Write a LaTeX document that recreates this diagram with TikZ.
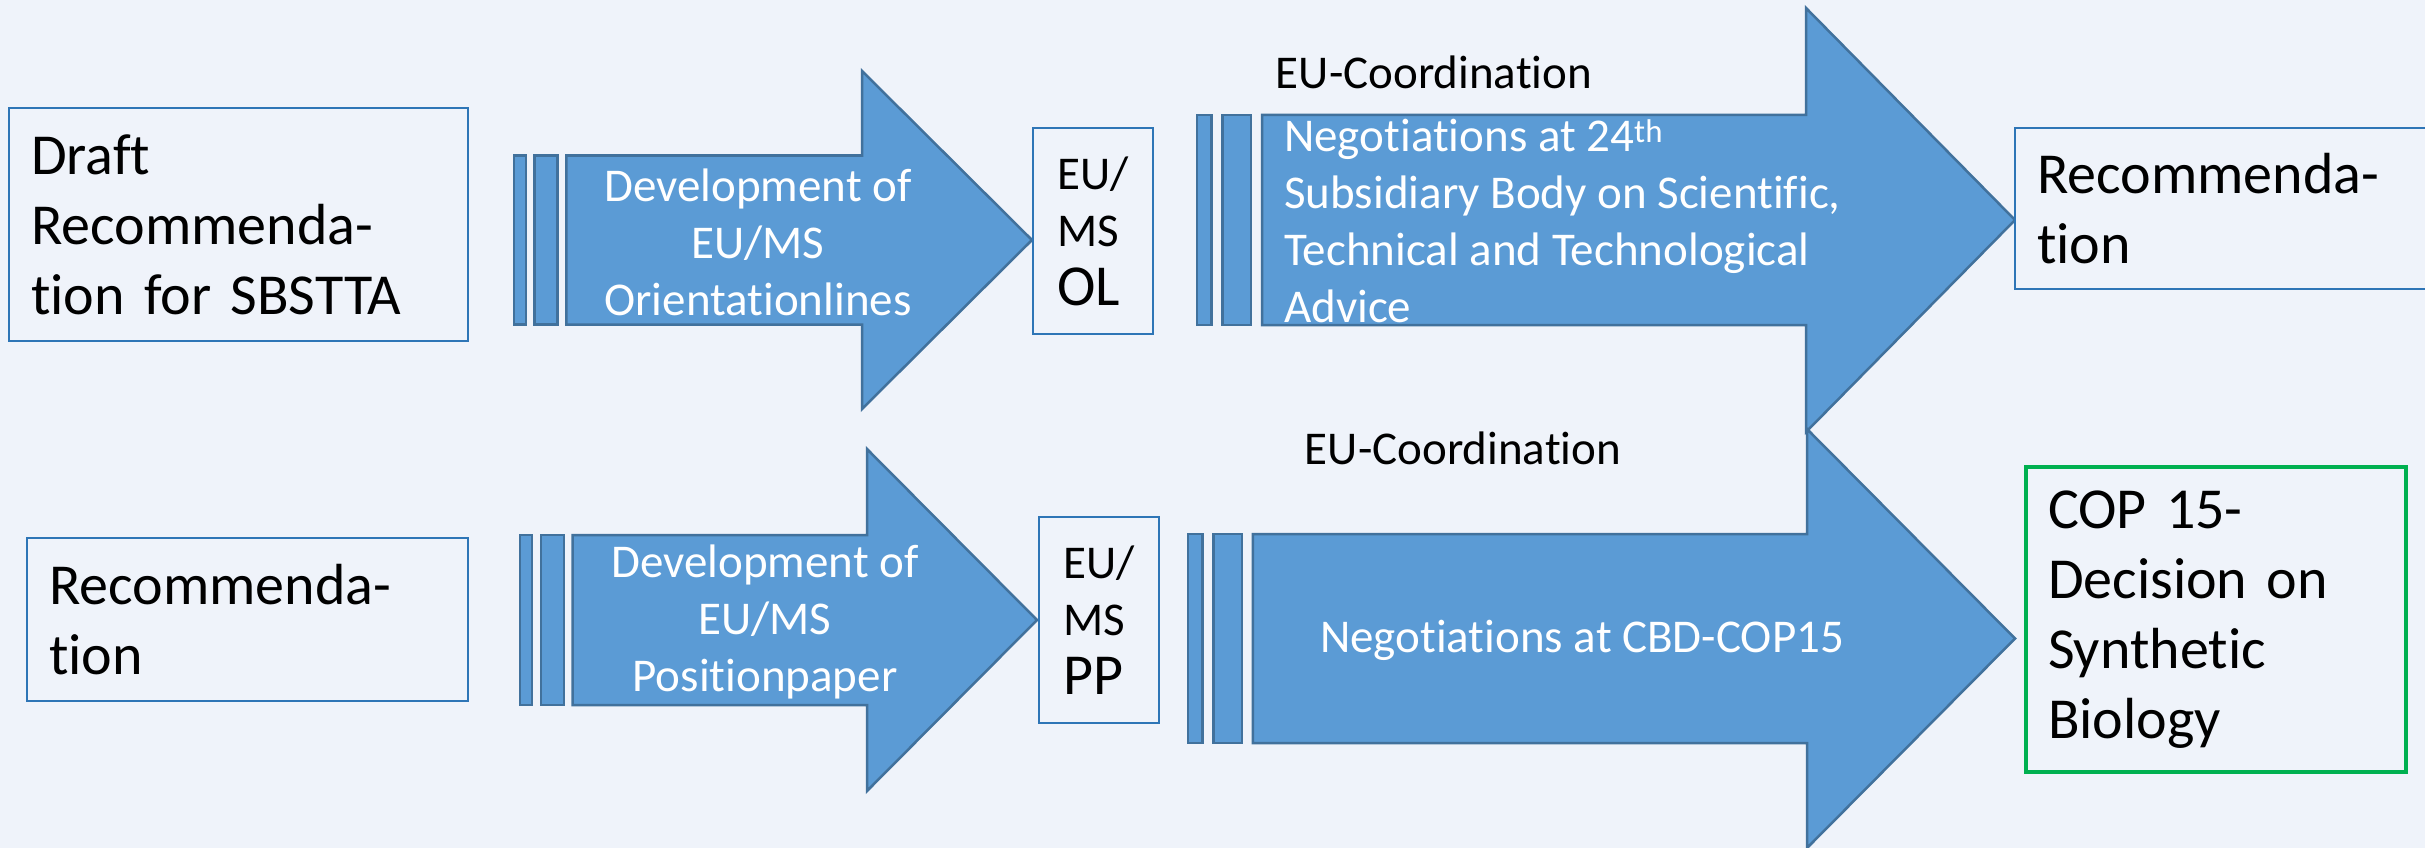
\documentclass[tikz,border=0pt]{standalone}
\usepackage{fontspec}
\setmainfont{Carlito}[Ligatures=NoCommon]
\usepackage{xcolor}
\usepackage{tikz}
\usetikzlibrary{positioning}

\definecolor{bgblue}{RGB}{239,243,250}
\definecolor{arrowblue}{RGB}{91,155,213}
\definecolor{arrowedge}{RGB}{65,113,156}
\definecolor{boxedge}{RGB}{46,117,182}
\definecolor{decisiongreen}{RGB}{0,176,80}

\newcommand{\bigtext}{\fontsize{58}{70}\selectfont}
\newcommand{\smalltext}{\fontsize{47}{57}\selectfont}

% #1 start x, #2 mid y, #3 half shaft, #4 head base x, #5 half head, #6 tip x
\newcommand{\stripedarrow}[6]{%
  \draw[arrowshape] (#1,#2-#3) rectangle (#1+0.14*#3,#2+#3);
  \draw[arrowshape] (#1+0.245*#3,#2-#3) rectangle (#1+0.515*#3,#2+#3);
  \draw[arrowshape] (#1+0.62*#3,#2-#3) -- (#4,#2-#3) -- (#4,#2-#5) -- (#6,#2)
    -- (#4,#2+#5) -- (#4,#2+#3) -- (#1+0.62*#3,#2+#3) -- cycle;
}

\begin{document}
\begin{tikzpicture}[x=1pt,y=-1pt,
    stepbox/.style={draw=boxedge,line width=2pt,fill=bgblue,align=left,inner xsep=22pt,inner ysep=0pt,font=\bigtext},
    msbox/.style={stepbox,minimum width=120pt,minimum height=206pt,font=\smalltext},
    arrowshape/.style={draw=arrowedge,line width=2.5pt,fill=arrowblue,line join=miter},
    arrowlabel/.style={text=white,align=center,inner sep=0pt,font=\smalltext},
    coordlabel/.style={inner sep=0pt,font=\smalltext}]
  \useasboundingbox (0,0) rectangle (2425,848);
  \fill[bgblue] (0,0) rectangle (2425,848);
  \clip (0,0) rectangle (2425,848);

  % upper row
  \node[stepbox,minimum width=459pt,minimum height=233pt,text width=415pt] (draft) at (238.5,224.5)
    {Draft\\Recommenda-\\tion for SBSTTA};
  \stripedarrow{514}{240}{84.5}{862}{169}{1032}
  \node[arrowlabel] (devol) at (758,242) {Development of\\EU/MS\\Orientationlines};
  \node[msbox] (ol) at (1093,231) {EU/\\MS\\[2pt]{\bigtext OL}};
  \stripedarrow{1197}{220}{105}{1806}{212}{2015}
  \node[coordlabel] (coordtop) at (1434,72) {EU-Coordination};
  \node[arrowlabel,align=left,anchor=west] (sbstta) at (1284,221)
    {Negotiations at 24\textsuperscript{th}\\Subsidiary Body on Scientific,\\Technical and Technological\\Advice};
  \node[stepbox,minimum width=430pt,minimum height=161pt,text width=386pt] (rectop) at (2230,208.5)
    {Recommenda-\\tion};

  % lower row
  \node[stepbox,minimum width=441pt,minimum height=163pt,text width=397pt] (recbot) at (247.5,619.5)
    {Recommenda-\\tion};
  \stripedarrow{520}{620}{85}{867}{171}{1037}
  \node[arrowlabel] (devpp) at (765,622) {Development of\\EU/MS\\Positionpaper};
  \node[msbox] (pp) at (1099,620) {EU/\\MS\\[2pt]{\bigtext PP}};
  \stripedarrow{1188}{638.5}{104.5}{1807}{209.5}{2015}
  \node[coordlabel] (coordbot) at (1463,448) {EU-Coordination};
  \node[arrowlabel] (cop) at (1582,640) {Negotiations at CBD-COP15};
  \node[stepbox,draw=decisiongreen,line width=4pt,minimum width=380pt,minimum height=305pt,text width=336pt] (decision) at (2216,619.5)
    {COP 15-\\Decision on\\Synthetic\\Biology};
\end{tikzpicture}
\end{document}
